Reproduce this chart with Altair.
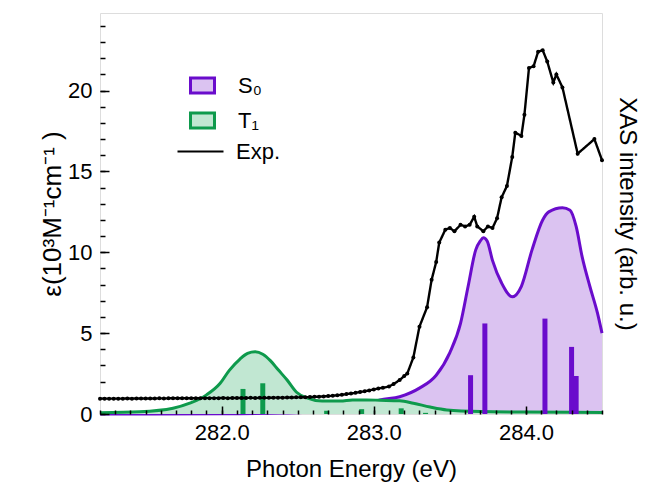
import altair as alt
import pandas as pd

FONT = "Liberation Sans"

# Experimental XAS (eV, arb. u. on the left scale)
EXP_E = [281.20, 281.23, 281.26, 281.29, 281.32, 281.35, 281.38, 281.41, 281.44, 281.47,
         281.50, 281.53, 281.56, 281.59, 281.62, 281.65, 281.68, 281.71, 281.74, 281.77,
         281.80, 281.83, 281.86, 281.89, 281.92, 281.95, 281.98, 282.01, 282.04, 282.07,
         282.10, 282.13, 282.16, 282.19, 282.22, 282.25, 282.28, 282.31, 282.34, 282.37,
         282.40, 282.43, 282.46, 282.49, 282.52, 282.55, 282.58, 282.61, 282.64, 282.67,
         282.70, 282.73, 282.76, 282.79, 282.82, 282.85, 282.88, 282.91, 282.94, 282.97,
         283.00, 283.03, 283.06, 283.10, 283.13, 283.17, 283.20, 283.22, 283.26, 283.30,
         283.35, 283.38, 283.41, 283.43, 283.47, 283.50, 283.53, 283.57, 283.60, 283.63,
         283.66, 283.68, 283.72, 283.75, 283.78, 283.81, 283.84, 283.875, 283.91, 283.93,
         283.97, 283.99, 284.02, 284.05, 284.08, 284.11, 284.14, 284.18, 284.20, 284.24,
         284.34, 284.45, 284.50]
EXP_V = [0.95, 0.95, 0.95, 0.95, 0.95, 0.95, 0.96, 0.95, 0.96, 0.96,
         0.96, 0.96, 0.96, 0.97, 0.96, 0.97, 0.97, 0.97, 0.97, 0.97,
         0.98, 0.97, 0.98, 0.98, 0.98, 0.98, 0.98, 0.99, 0.98, 0.99,
         0.99, 0.99, 0.99, 1.00, 0.99, 1.00, 1.00, 1.00, 1.01, 1.01,
         1.01, 1.02, 1.02, 1.03, 1.03, 1.04, 1.05, 1.06, 1.07, 1.09,
         1.11, 1.13, 1.16, 1.19, 1.23, 1.27, 1.31, 1.36, 1.41, 1.46,
         1.52, 1.58, 1.62, 1.70, 1.85, 2.10, 2.35, 2.50, 3.50, 5.40,
         6.60, 8.30, 9.40, 10.6, 11.4, 11.5, 11.3, 11.7, 11.6, 11.7,
         12.2, 11.6, 11.3, 11.6, 11.5, 12.1, 13.4, 14.1, 15.9, 17.4,
         17.2, 18.5, 21.4, 21.5, 22.4, 22.5, 21.8, 20.5, 21.0, 20.2,
         16.1, 17.0, 15.7]

# Broadened S0 spectrum
S0_E = [281.20, 282.00, 282.40, 282.60, 282.80, 282.95, 283.04, 283.17, 283.30, 283.41,
        283.50, 283.57, 283.62, 283.67, 283.70, 283.72, 283.745, 283.78, 283.84, 283.91,
        283.97, 284.04, 284.11, 284.15, 284.24, 284.29, 284.33, 284.37, 284.42, 284.47, 284.50]
S0_V = [0.00, 0.02, 0.06, 0.12, 0.30, 0.60, 0.87, 1.07, 1.60, 2.40,
        3.80, 5.60, 7.90, 10.15, 10.7, 10.9, 10.7, 9.5, 8.1, 7.25,
        7.9, 10.15, 12.0, 12.5, 12.75, 12.6, 11.6, 9.7, 7.9, 6.25, 5.0]

# Broadened T1 spectrum
T1_E = [281.20, 281.46, 281.68, 281.79, 281.90, 281.99, 282.05, 282.12, 282.17, 282.22,
        282.27, 282.32, 282.37, 282.43, 282.49, 282.56, 282.66, 282.78, 282.86, 282.95,
        283.04, 283.17, 283.26, 283.37, 283.48, 283.70, 284.00, 284.50]
T1_V = [0.08, 0.14, 0.36, 0.67, 1.18, 1.90, 2.70, 3.40, 3.75, 3.85,
        3.70, 3.30, 2.75, 2.10, 1.36, 1.00, 0.80, 0.80, 0.87, 0.87,
        0.85, 0.82, 0.67, 0.43, 0.25, 0.15, 0.12, 0.10]

# Stick spectra
S0_STICK_E = [283.636, 283.73, 284.125, 284.30, 284.33]
S0_STICK_H = [2.4, 5.6, 5.9, 4.15, 2.35]
T1_STICK_E = [282.14, 282.27, 282.69, 282.92, 283.18, 283.34]
T1_STICK_H = [1.55, 1.9, 0.2, 0.3, 0.35, 0.07]

SERIES = ["S\u2080", "T\u2081"]
EXP_LABEL = "Exp."
LINE_COLORS = ["#6a0ccc", "#0e9a4c"]
FILL_COLORS = ["#dbc3f1", "#c1e7d2"]

X_LABEL_VALUES = [282.0, 283.0, 284.0]
Y_LABEL_VALUES = [0, 5, 10, 15, 20]
X_MAJOR_TICKS = [282.0, 283.0, 284.0]
X_MINOR_TICKS = [round(281.2 + 0.1 * i, 1) for i in range(34)]
Y_MAJOR_TICKS = [0, 5, 10, 15, 20]
Y_MINOR_TICKS = list(range(0, 25))

curves = pd.concat([
    pd.DataFrame({"E": S0_E, "v": S0_V, "series": SERIES[0]}),
    pd.DataFrame({"E": T1_E, "v": T1_V, "series": SERIES[1]}),
])
sticks = pd.concat([
    pd.DataFrame({"E": S0_STICK_E, "h": S0_STICK_H, "series": SERIES[0]}),
    pd.DataFrame({"E": T1_STICK_E, "h": T1_STICK_H, "series": SERIES[1]}),
])
sticks["zero"] = 0.0
exp = pd.DataFrame({"E": EXP_E, "v": EXP_V, "label": EXP_LABEL})

xs = alt.Scale(domain=[281.2, 284.5], nice=False, zero=False)
ys = alt.Scale(domain=[0, 24.8], nice=False, zero=False)
fill_scale = alt.Scale(domain=SERIES, range=FILL_COLORS)
stroke_scale = alt.Scale(domain=SERIES, range=LINE_COLORS)

series_legend = alt.Legend(
    title=None, orient="none", legendX=89, legendY=59, padding=0,
    symbolType="M-1,-0.625L1,-0.625L1,0.625L-1,0.625Z", symbolSize=576,
    symbolStrokeWidth=3, labelFontSize=22, labelFont=FONT, labelColor="black",
    rowPadding=8, labelOffset=22,
)
exp_legend = alt.Legend(
    title=None, orient="none", legendX=77, legendY=115, padding=0,
    symbolType="M-1,-0.045L1,-0.045L1,0.045L-1,0.045Z", symbolSize=2116,
    symbolFillColor="black", symbolStrokeColor="black", symbolStrokeWidth=0.5,
    symbolOpacity=1, labelFontSize=22, labelFont=FONT, labelColor="black",
    labelOffset=12,
)

x_label_axis = alt.Axis(
    orient="bottom", values=X_LABEL_VALUES, format=".1f", ticks=False, domain=False,
    grid=False, labelFontSize=22, labelFont=FONT, labelColor="black", labelPadding=8,
    title="Photon Energy (eV)", titleFontSize=24, titleFont=FONT,
    titleFontWeight="normal", titleColor="black", titlePadding=14,
)
y_label_axis = alt.Axis(
    orient="left", values=Y_LABEL_VALUES, ticks=False, domain=False, grid=False,
    labelFontSize=22, labelFont=FONT, labelColor="black", labelPadding=8,
    title="\u03b5(10\u00b3M\u207b\u00b9cm\u207b\u00b9 )", titleFontSize=26, titleFont=FONT,
    titleFontWeight="normal", titleColor="black", titlePadding=2,
)


def x_tick_axis(values, size):
    return alt.Axis(
        orient="top", offset=-401, values=values, labels=False, domain=False,
        grid=False, title=None, tickColor="black", tickWidth=1.5, tickSize=size, zindex=2,
    )


def y_tick_axis(values, size):
    return alt.Axis(
        orient="right", offset=-502, values=values, labels=False, domain=False,
        grid=False, title=None, tickColor="black", tickWidth=1.5, tickSize=size, zindex=2,
    )


y_right_axis = alt.Axis(
    orient="right", labels=False, ticks=False, domain=False, grid=False,
    title="XAS intensity (arb. u.)", titleFontSize=24, titleFont=FONT,
    titleFontWeight="normal", titleColor="black", titlePadding=12,
)

base = alt.Chart(curves)

s0_area = base.transform_filter(alt.datum.series == SERIES[0]).mark_area(interpolate="monotone").encode(
    x=alt.X("E:Q", scale=xs, axis=x_label_axis),
    y=alt.Y("v:Q", scale=ys, axis=y_label_axis, stack=None),
    fill=alt.Fill("series:N", scale=fill_scale, legend=series_legend),
)
s0_line = base.transform_filter(alt.datum.series == SERIES[0]).mark_line(interpolate="monotone", strokeWidth=3).encode(
    x=alt.X("E:Q", scale=xs, axis=x_tick_axis(X_MINOR_TICKS, 4)),
    y=alt.Y("v:Q", scale=ys, axis=y_tick_axis(Y_MINOR_TICKS, 5)),
    stroke=alt.Stroke("series:N", scale=stroke_scale, legend=series_legend),
)
t1_area = base.transform_filter(alt.datum.series == SERIES[1]).mark_area(interpolate="monotone").encode(
    x=alt.X("E:Q", scale=xs, axis=x_tick_axis(X_MAJOR_TICKS, 8)),
    y=alt.Y("v:Q", scale=ys, axis=y_tick_axis(Y_MAJOR_TICKS, 9), stack=None),
    fill=alt.Fill("series:N", scale=fill_scale, legend=series_legend),
)
t1_line = base.transform_filter(alt.datum.series == SERIES[1]).mark_line(interpolate="monotone", strokeWidth=3).encode(
    x=alt.X("E:Q", scale=xs, axis=None),
    y=alt.Y("v:Q", scale=ys, axis=None),
    stroke=alt.Stroke("series:N", scale=stroke_scale, legend=series_legend),
)
stick_layer = alt.Chart(sticks).mark_rule(strokeWidth=5).encode(
    x=alt.X("E:Q", scale=xs, axis=None),
    y=alt.Y("h:Q", scale=ys, axis=None),
    y2="zero:Q",
    stroke=alt.Stroke("series:N", scale=stroke_scale, legend=series_legend),
)
exp_line = alt.Chart(exp).mark_line(
    color="black", strokeWidth=2.4,
    point=alt.OverlayMarkDef(filled=True, size=16, color="black"),
).encode(
    x=alt.X("E:Q", scale=xs, axis=None),
    y=alt.Y("v:Q", scale=ys, axis=y_right_axis),
    strokeDash=alt.StrokeDash("label:N", scale=alt.Scale(domain=[EXP_LABEL], range=[[1, 0]]), legend=exp_legend),
)

chart = alt.layer(s0_area, s0_line, t1_area, t1_line, stick_layer, exp_line).resolve_axis(
    x="independent", y="independent"
).properties(
    width=502, height=401,
    autosize=alt.AutoSizeParams(type="none"),
    padding={"left": 92, "top": 5, "right": 42, "bottom": 70},
).configure_view(stroke="black", strokeWidth=2).configure(background="white")

chart.save("out.html", embed_options={"renderer": "svg", "actions": False})
